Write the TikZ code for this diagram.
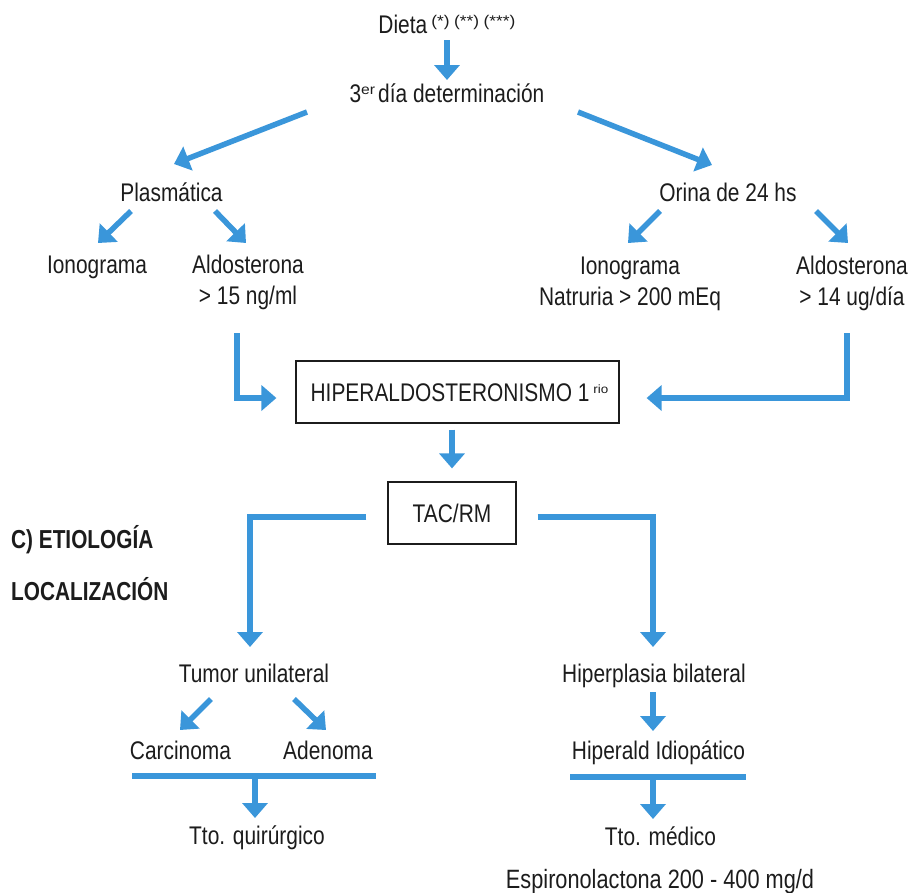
\documentclass[tikz,border=0pt]{standalone}
\usepackage{fontspec}
\setmainfont{Liberation Sans}[FakeStretch=0.82]
\newfontfamily\headfont{Liberation Sans}[FakeStretch=0.8]
\newfontfamily\supfont{Liberation Sans}[FakeStretch=1.12]
\usetikzlibrary{arrows.meta,calc}
\definecolor{flow}{RGB}{58,150,218}
\definecolor{ink}{RGB}{28,28,28}
% small raised annotation: [raise]{size}{text}
\newcommand{\upnote}[3][7pt]{\raisebox{#1}{\supfont\fontsize{#2}{#2}\selectfont #3}}
\begin{document}
\begin{tikzpicture}[x=1pt,y=-1pt,
  lbl/.style={anchor=base, inner sep=0pt, text=ink, font=\fontsize{25.5}{28}\selectfont},
  head/.style={anchor=base west, inner sep=0pt, text=ink, font=\headfont\bfseries\fontsize{26}{28}\selectfont},
  framed/.style={draw=ink, line width=1.2pt, inner sep=0pt, text=ink,
    font=\fontsize{25.5}{28}\selectfont, text height=18pt, text depth=0pt},
  flowarrow/.style={draw=flow, line width=5.5pt, -{Triangle[width=25pt,length=15pt]}},
  flowbar/.style={draw=flow, line width=5.5pt}]
\useasboundingbox (0,0) rectangle (913,892);

% protocol headings
\node[lbl] (dieta) at (447,33) {Dieta\hspace{4pt}\upnote{15.5}{(*)}\hspace{4.5pt}\upnote{15.5}{(**)}\hspace{4.5pt}\upnote{15.5}{(***)}};
\node[lbl] (det) at (447,102) {3\upnote[8pt]{14}{er}\hspace{3pt}día determinación};

% first branching
\node[lbl] (pla) at (171.5,201) {Plasmática};
\node[lbl] (ori) at (728,201) {Orina de 24 hs};

\node[lbl] (ion1) at (97,273) {Ionograma};
\node[lbl] (ald1) at (248,273) {Aldosterona};
\node[lbl] (ald1v) at (248,304) {> 15 ng/ml};
\node[lbl] (ion2) at (630,274) {Ionograma};
\node[lbl] (ion2v) at (630,305) {Natruria > 200 mEq};
\node[lbl] (ald2) at (852,274) {Aldosterona};
\node[lbl] (ald2v) at (852,305) {> 14 ug/día};

% confirmed diagnosis and imaging
\node[framed, minimum width=323pt, minimum height=62pt] (hiper) at (457.5,392)
  {\hspace{4pt}HIPERALDOSTERONISMO 1\hspace{4pt}\upnote[8pt]{12}{rio}};
\node[framed, minimum width=128pt, minimum height=62pt] (tac) at (452,513) {TAC/RM};

\node[head] (etio) at (11,548) {C) ETIOLOGÍA};
\node[head] (loc) at (11,600) {LOCALIZACIÓN};

% aetiology branches
\node[lbl] (tum) at (254,682) {Tumor unilateral};
\node[lbl] (hip) at (654,682) {Hiperplasia bilateral};
\node[lbl] (car) at (180.5,759) {Carcinoma};
\node[lbl] (ade) at (328,759) {Adenoma};
\node[lbl] (hid) at (658.5,759) {Hiperald Idiopático};
\node[lbl] (ttq) at (257,844) {Tto. quirúrgico};
\node[lbl] (ttm) at (660.5,845) {Tto. médico};
\node[lbl, font=\fontsize{26.5}{28}\selectfont] (esp) at (660,888) {Espironolactona 200 - 400 mg/d};

% connectors
\draw[flowarrow] ($(dieta.base)+(0,7)$) -- ($(det.base)+(0,-22)$);
\draw[flowarrow] ($(det.base)+(-140,10)$) -- ($(pla.base)+(2.5,-37)$);
\draw[flowarrow] ($(det.base)+(131,10)$) -- ($(ori.base)+(-16,-36)$);

\draw[flowarrow] ($(pla.base)+(-40.5,10)$) -- ($(ion1.base)+(1,-30)$);
\draw[flowarrow] ($(pla.base)+(43.5,10)$) -- ($(ald1.base)+(-2,-30)$);
\draw[flowarrow] ($(ori.base)+(-68,10)$) -- ($(ion2.base)+(-2,-31)$);
\draw[flowarrow] ($(ori.base)+(88,10)$) -- ($(ald2.base)+(-4,-31)$);

\draw[flowarrow] ($(ald1v.base)+(-11,29)$) |- ($(hiper.west)+(-19,6)$);
\draw[flowarrow] ($(ald2v.base)+(-5,28)$) |- ($(hiper.east)+(27,6)$);

\draw[flowarrow] ($(hiper.south)+(-5.5,6)$) -- ($(tac.north)+(0,-13)$);

\draw[flowarrow] ($(tac.west)+(-21,4)$) -| ($(tum.base)+(-4,-35)$);
\draw[flowarrow] ($(tac.east)+(21,4)$) -| ($(hip.base)+(-1,-35)$);

\draw[flowarrow] ($(tum.base)+(-43,17)$) -- ($(car.base)+(-0.5,-29)$);
\draw[flowarrow] ($(tum.base)+(40,17)$) -- ($(ade.base)+(-2,-29)$);

\coordinate (barL) at ($(car.base)+(-48.5,17)$);
\coordinate (barR) at ($(ade.base)+(48,17)$);
\draw[flowbar] (barL) -- (barR);
\coordinate (barQ) at ($(ttq.base)+(-2,-68)$);
\draw[flowarrow] (barQ) -- ($(ttq.base)+(-2,-26)$);

\draw[flowarrow] ($(hip.base)+(-1,10)$) -- ($(hid.base)+(-5.5,-28)$);
\draw[flowbar] ($(hid.base)+(-88.5,18)$) -- ($(hid.base)+(87.5,18)$);
\draw[flowarrow] ($(hid.base)+(-5.5,18)$) -- ($(ttm.base)+(-7.5,-26)$);
\end{tikzpicture}
\end{document}
